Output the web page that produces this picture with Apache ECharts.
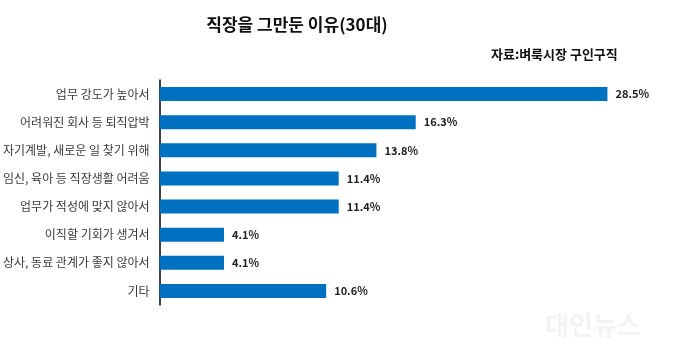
<!DOCTYPE html>
<html><head><meta charset="utf-8">
<script src="https://cdn.jsdelivr.net/npm/echarts@6/dist/echarts.min.js"></script>
<style>html,body{margin:0;padding:0;background:#fff}#c{width:680px;height:359px}</style>
</head><body><div id="c"></div>
<script>
const categories = ['업무 강도가 높아서','어려워진 회사 등 퇴직압박','자기계발, 새로운 일 찾기 위해','임신, 육아 등 직장생활 어려움','업무가 적성에 맞지 않아서','이직할 기회가 생겨서','상사, 동료 관계가 좋지 않아서','기타'];
const values = [28.5, 16.3, 13.8, 11.4, 11.4, 4.1, 4.1, 10.6];
const titleText = '직장을 그만둔 이유(30대)';
const sourceText = '자료:벼룩시장 구인구직';
const font = '"Noto Sans CJK KR", "Noto Sans", sans-serif';
const chart = echarts.init(document.getElementById('c'));
chart.setOption({
  animation: false,
  title: [
    {text: titleText, left: 292, top: 11, textAlign: 'center', textStyle: {fontFamily: font, fontSize: 17, fontWeight: 'bold', color: '#111'}},
    {text: sourceText, left: 486, top: 43, textStyle: {fontFamily: font, fontSize: 13, fontWeight: 'bold', color: '#111'}}
  ],
  grid: {left: 158, top: 80, width: 473, height: 225, containLabel: false},
  xAxis: {type: 'value', min: 0, max: 30, show: false},
  yAxis: {
    type: 'category', inverse: true, data: categories,
    axisLine: {show: true, lineStyle: {color: '#000', width: 1.5}},
    axisTick: {show: false},
    axisLabel: {margin: 10, fontFamily: font, fontSize: 12, color: '#3a3a3a'}
  },
  series: [{
    type: 'bar', data: values, barWidth: 14,
    itemStyle: {color: '#0070C0'},
    label: {show: true, position: 'right', distance: 8, formatter: p => p.value.toFixed(1) + '%', fontFamily: font, fontSize: 11, fontWeight: 'bold', color: '#222'}
  }],
  graphic: [{type: 'text', left: 545, top: 312, style: {text: '대인뉴스', font: 'bold 26px "Noto Sans CJK KR"', fill: '#f3f3f3'}}]
});
</script></body></html>
